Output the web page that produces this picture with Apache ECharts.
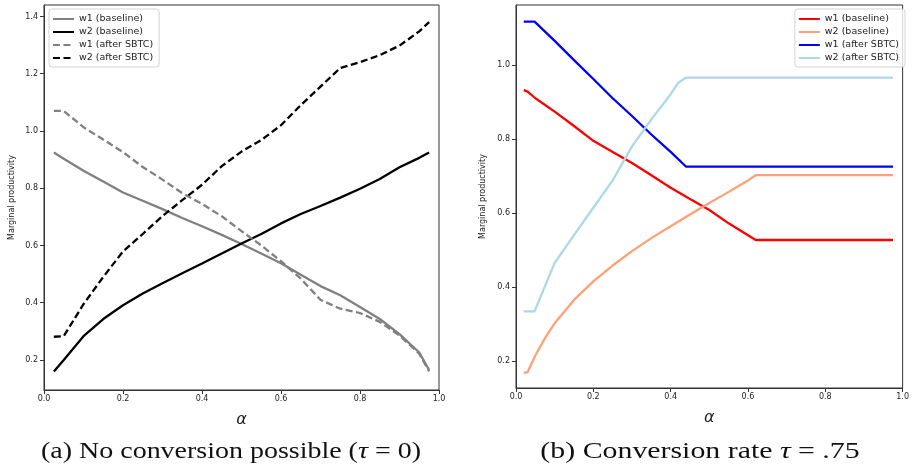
<!DOCTYPE html>
<html>
<head>
<meta charset="utf-8">
<script src="https://cdn.jsdelivr.net/npm/echarts@6/dist/echarts.min.js"></script>
<style>
html,body{margin:0;padding:0;background:#fff;}
#chart{width:912px;height:470px;}
</style>
</head>
<body>
<div id="chart"></div>
<script>
// ---------- Data ----------
// Panel (a): no conversion possible
const alphaA = [0.025, 0.05, 0.1, 0.15, 0.2, 0.25, 0.3, 0.35, 0.4, 0.45, 0.5, 0.55, 0.6, 0.65, 0.7, 0.75, 0.8, 0.85, 0.9, 0.95, 0.975];
const aW1Base  = [0.925, 0.903, 0.861, 0.823, 0.785, 0.756, 0.727, 0.696, 0.667, 0.637, 0.605, 0.572, 0.538, 0.498, 0.458, 0.426, 0.385, 0.343, 0.290, 0.226, 0.165];
const aW2Base  = [0.160, 0.200, 0.283, 0.343, 0.391, 0.432, 0.468, 0.503, 0.537, 0.572, 0.607, 0.640, 0.677, 0.710, 0.738, 0.767, 0.798, 0.832, 0.873, 0.906, 0.925];
const aW1After = [1.070, 1.070, 1.013, 0.970, 0.926, 0.874, 0.830, 0.783, 0.745, 0.702, 0.650, 0.600, 0.545, 0.484, 0.410, 0.379, 0.364, 0.333, 0.285, 0.222, 0.160];
const aW2After = [0.281, 0.283, 0.395, 0.490, 0.579, 0.640, 0.703, 0.758, 0.812, 0.877, 0.928, 0.968, 1.020, 1.090, 1.155, 1.220, 1.240, 1.265, 1.298, 1.348, 1.380];

// Panel (b): conversion rate tau = .75
const bW1BaseX  = [0.02, 0.03, 0.05, 0.1, 0.15, 0.2, 0.25, 0.3, 0.35, 0.4, 0.45, 0.5, 0.55, 0.6, 0.62, 0.975];
const bW1BaseY  = [0.932, 0.928, 0.910, 0.874, 0.835, 0.795, 0.765, 0.735, 0.702, 0.668, 0.638, 0.608, 0.572, 0.540, 0.527, 0.527];
const bW2BaseX  = [0.02, 0.03, 0.05, 0.075, 0.1, 0.15, 0.2, 0.25, 0.3, 0.35, 0.4, 0.45, 0.5, 0.55, 0.6, 0.62, 0.975];
const bW2BaseY  = [0.168, 0.170, 0.215, 0.262, 0.302, 0.365, 0.415, 0.458, 0.497, 0.532, 0.564, 0.596, 0.627, 0.657, 0.688, 0.702, 0.702];
const bW1AfterX = [0.02, 0.048, 0.1, 0.15, 0.2, 0.25, 0.3, 0.35, 0.4, 0.44, 0.975];
const bW1AfterY = [1.117, 1.117, 1.065, 1.013, 0.962, 0.910, 0.862, 0.812, 0.765, 0.725, 0.725];
const bW2AfterX = [0.02, 0.048, 0.1, 0.15, 0.2, 0.25, 0.3, 0.35, 0.4, 0.42, 0.44, 0.975];
const bW2AfterY = [0.334, 0.334, 0.465, 0.540, 0.614, 0.688, 0.780, 0.853, 0.921, 0.952, 0.966, 0.966];

const xTicks = [0, 0.2, 0.4, 0.6, 0.8, 1.0];
const yTicksA = [0.2, 0.4, 0.6, 0.8, 1.0, 1.2, 1.4];
const yTicksB = [0.2, 0.4, 0.6, 0.8, 1.0];

const seriesNames = ['w1 (baseline)', 'w2 (baseline)', 'w1 (after SBTC)', 'w2 (after SBTC)'];
const captionA = '(a) No conversion possible ({i|τ} = 0)';
const captionB = '(b) Conversion rate {i|τ} = .75';

// ---------- Helpers ----------
const zip = (xs, ys) => xs.map((x, i) => [x, ys[i]]);
const AX = '#333';
const tickFont = { fontSize: 8, color: '#222', fontFamily: 'DejaVu Sans' };
const fmt = v => Number(v).toFixed(1);

function xAxis(gi) {
  return {
    type: 'value', gridIndex: gi, min: 0, max: 1, interval: 0.2,
    axisLine: { show: true, onZero: false, lineStyle: { color: AX, width: 1 } },
    axisTick: { show: true, length: 4, customValues: xTicks, lineStyle: { color: AX } },
    axisLabel: Object.assign({ margin: 5, formatter: fmt, customValues: xTicks }, tickFont),
    splitLine: { show: false },
    name: 'α', nameLocation: 'middle', nameGap: 22,
    nameTextStyle: { fontSize: 16, fontStyle: 'italic', fontFamily: 'DejaVu Sans', color: '#222' }
  };
}
function yAxis(gi, min, max, ticks, gap) {
  return {
    type: 'value', gridIndex: gi, min: min, max: max,
    axisLine: { show: true, onZero: false, lineStyle: { color: AX, width: 1 } },
    axisTick: { show: true, length: 4, customValues: ticks, lineStyle: { color: AX } },
    axisLabel: Object.assign({ margin: 6, formatter: fmt, customValues: ticks }, tickFont),
    splitLine: { show: false },
    name: 'Marginal productivity', nameLocation: 'middle', nameGap: gap, nameRotate: 90,
    nameTextStyle: { fontSize: 8, fontFamily: 'DejaVu Sans', color: '#222' }
  };
}
function line(name, data, color, dashed, gi) {
  return {
    name: name, type: 'line', data: data, xAxisIndex: gi, yAxisIndex: gi,
    symbol: 'none', showSymbol: false, smooth: false, silent: true,
    itemStyle: { color: color },
    lineStyle: { color: color, width: 2.3, type: dashed ? [7, 3.5] : 'solid' },
    z: 3
  };
}
const legendCommon = {
  orient: 'vertical', itemWidth: 21, itemHeight: 10, itemGap: 3,
  padding: [5, 6, 4, 3], top: 9,
  backgroundColor: 'rgba(255,255,255,0.8)', borderColor: '#d4d4d4', borderWidth: 1, borderRadius: 3,
  itemStyle: { opacity: 0, borderWidth: 0 },
  textStyle: { fontSize: 9.5, lineHeight: 10, color: '#222', fontFamily: 'DejaVu Sans' },
  selectedMode: false
};

const option = {
  animation: false,
  backgroundColor: '#fff',
  grid: [
    { left: 44, top: 5, width: 395, height: 385, show: true, borderColor: AX, borderWidth: 1, backgroundColor: 'transparent' },
    { left: 516, top: 5, width: 392, height: 383, show: true, borderColor: AX, borderWidth: 1, backgroundColor: 'transparent' }
  ],
  xAxis: [xAxis(0), xAxis(1)],
  yAxis: [yAxis(0, 0.095, 1.44, yTicksA, 28), yAxis(1, 0.127, 1.162, yTicksB, 29)],
  legend: [
    Object.assign({}, legendCommon, { left: 49, data: seriesNames.slice() }),
    Object.assign({}, legendCommon, { right: 7, data: seriesNames.map(n => n + ' '),
      formatter: n => n.trim() })
  ],
  series: [
    line(seriesNames[0], zip(alphaA, aW1Base), '#808080', false, 0),
    line(seriesNames[1], zip(alphaA, aW2Base), '#000000', false, 0),
    line(seriesNames[2], zip(alphaA, aW1After), '#808080', true, 0),
    line(seriesNames[3], zip(alphaA, aW2After), '#000000', true, 0),
    line(seriesNames[0] + ' ', zip(bW1BaseX, bW1BaseY), '#ff0000', false, 1),
    line(seriesNames[1] + ' ', zip(bW2BaseX, bW2BaseY), '#ffa07a', false, 1),
    line(seriesNames[2] + ' ', zip(bW1AfterX, bW1AfterY), '#0000ff', false, 1),
    line(seriesNames[3] + ' ', zip(bW2AfterX, bW2AfterY), '#add8e6', false, 1)
  ],
  graphic: [
    { type: 'text', x: 231, y: 452, scaleX: 1.19,
      style: { text: captionA, fontSize: 23.5, fontFamily: 'Liberation Serif', fill: '#111', align: 'center', verticalAlign: 'middle',
      rich: { i: { fontStyle: 'italic', fontSize: 23.5, fontFamily: 'Liberation Serif', fill: '#111' } } } },
    { type: 'text', x: 700, y: 452, scaleX: 1.27,
      style: { text: captionB, fontSize: 23.5, fontFamily: 'Liberation Serif', fill: '#111', align: 'center', verticalAlign: 'middle',
      rich: { i: { fontStyle: 'italic', fontSize: 23.5, fontFamily: 'Liberation Serif', fill: '#111' } } } }
  ]
};

const chart = echarts.init(document.getElementById('chart'), null, { renderer: 'canvas' });
chart.setOption(option);
</script>
</body>
</html>
